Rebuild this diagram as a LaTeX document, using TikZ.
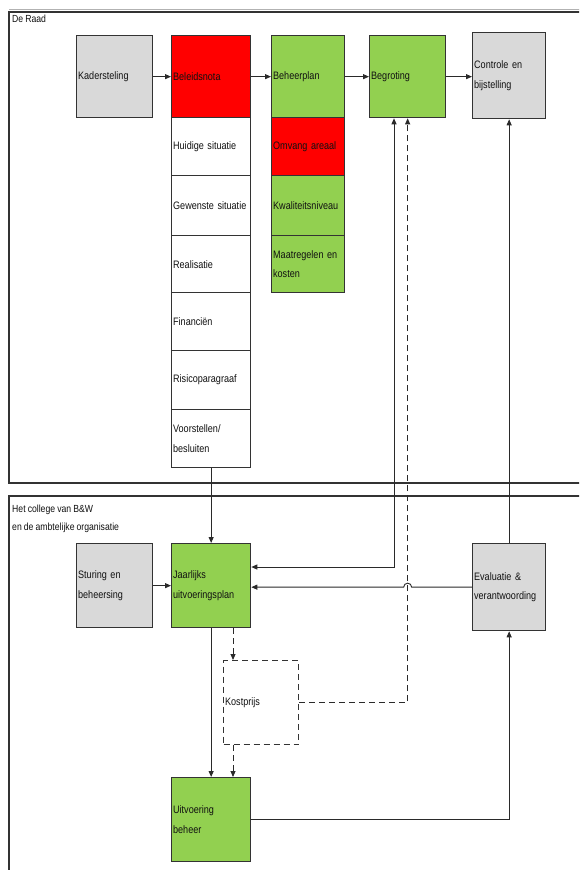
\documentclass[tikz,border=0pt]{standalone}
\usepackage{fontspec}
\setmainfont{Liberation Sans}[FakeStretch=0.84]
\usetikzlibrary{arrows.meta,calc}
\definecolor{boxgray}{HTML}{D9D9D9}
\definecolor{boxgreen}{HTML}{92D050}
\definecolor{boxred}{HTML}{FF0000}
\definecolor{edge}{HTML}{333333}
\definecolor{wire}{HTML}{2A2A2A}
\definecolor{txt}{HTML}{111111}
\newcommand{\cellfont}{\fontsize{10.8}{19.5}\selectfont\spaceskip=2.2pt plus 0.5pt\relax}
\newcommand{\lblfont}{\fontsize{10.3}{18}\selectfont\spaceskip=2.1pt plus 0.5pt\relax}
\begin{document}
\begin{tikzpicture}[x=1pt,y=-1pt,
  cell/.style={draw=edge, line width=1.3pt, anchor=north west, inner xsep=1.5pt, inner ysep=0pt,
    align=left, text=txt, font=\cellfont},
  gbox/.style={cell, fill=boxgray},
  grbox/.style={cell, fill=boxgreen},
  rbox/.style={cell, fill=boxred},
  wbox/.style={cell, fill=white},
  kbox/.style={cell, fill=white, dash pattern=on 6pt off 4pt},
  arr/.style={draw=wire, line width=0.9pt, -{Triangle[length=6pt,width=5pt]}},
  darr/.style={arr, dash pattern=on 6pt off 4pt},
  frame/.style={draw=edge, line width=1.4pt},
  lbl/.style={anchor=north west, inner sep=0pt, align=left, text=txt, font=\lblfont}]
\clip (0,0) rectangle (579,870);
\fill[white] (0,0) rectangle (579,870);
% frames
\draw[gray!60, line width=0.8pt] (600,9.5) -- (9,9.5);
\draw[frame] (600,12) -- (9,12) -- (9,483) -- (600,483);
\draw[frame] (600,496) -- (9,496) -- (9,900);
\node[lbl] (raad) at (12,15) {De Raad};
\node[lbl] (college) at (12,505) {Het college van B\&W\\en de ambtelijke organisatie};
% top row
\node[gbox, minimum width=76, minimum height=82, text width=73] (kad) at (76,35) {Kadersteling};
\node[rbox, minimum width=79, minimum height=82, text width=76] (bel) at (171,35) {Beleidsnota};
\node[wbox, minimum width=79, minimum height=58, text width=76] (hui) at (171,117) {Huidige situatie};
\node[wbox, minimum width=79, minimum height=60, text width=76] (gew) at (171,175) {Gewenste situatie};
\node[wbox, minimum width=79, minimum height=57, text width=76] (rea) at (171,235) {Realisatie};
\node[wbox, minimum width=79, minimum height=58, text width=76] (fin) at (171,292) {Financiën};
\node[wbox, minimum width=79, minimum height=59, text width=76] (ris) at (171,350) {Risicoparagraaf};
\node[wbox, minimum width=79, minimum height=58, text width=76] (voo) at (171,409) {Voorstellen/\\besluiten};
\node[grbox, minimum width=73, minimum height=82, text width=70] (beh) at (271,35) {Beheerplan};
\node[rbox, minimum width=73, minimum height=58, text width=70] (omv) at (271,117) {Omvang areaal};
\node[grbox, minimum width=73, minimum height=60, text width=70] (kwa) at (271,175) {Kwaliteitsniveau};
\node[grbox, minimum width=73, minimum height=57, text width=70] (maa) at (271,235) {Maatregelen en\\kosten};
\node[grbox, minimum width=76, minimum height=82, text width=73] (beg) at (369,35) {Begroting};
\node[gbox, minimum width=73, minimum height=86, text width=70] (con) at (472,32) {Controle en\\bijstelling};
% bottom
\node[gbox, minimum width=76, minimum height=84, text width=73] (stu) at (76,543) {Sturing en\\beheersing};
\node[grbox, minimum width=79, minimum height=84, text width=76] (jaa) at (171,543) {Jaarlijks\\uitvoeringsplan};
\node[gbox, minimum width=73, minimum height=87, text width=70] (eva) at (472,543) {Evaluatie \&\\verantwoording};
\node[kbox, minimum width=75, minimum height=84, text width=72] (kos) at (223,660) {Kostprijs};
\node[grbox, minimum width=79, minimum height=84, text width=76] (uit) at (171,777) {Uitvoering\\beheer};
% helper coordinates
\coordinate (d1) at ($(jaa.south west)+(62,0)$);
\coordinate (s1) at ($(beg.south west)+(25,0)$);
\coordinate (j1) at ($(jaa.north east)+(0,24)$);
\coordinate (jumpR) at ($(eva.west -| beg.south)+(4,0)$);
% connectors top row
\draw[arr] (kad.east) -- (bel.west);
\draw[arr] (bel.east) -- (beh.west);
\draw[arr] (beh.east) -- (beg.west);
\draw[arr] (beg.east) -- (beg.east -| con.west);
% column to yearly plan
\draw[arr] (voo.south) -- (jaa.north);
\draw[arr] (stu.east) -- (jaa.west);
% Begroting <-> Jaarlijks
\draw[draw=wire, line width=0.9pt, {Triangle[length=6pt,width=5pt]}-{Triangle[length=6pt,width=5pt]}] (s1) |- (j1);
% Evaluatie -> Jaarlijks with jump
\draw[arr] (eva.west) -- (jumpR) arc (0:-180:4) -- (eva.west -| jaa.east);
% Evaluatie -> Controle
\draw[arr] (eva.north) -- (con.south);
% Jaarlijks -> Uitvoering
\draw[arr] (jaa.south) -- (uit.north);
\draw[darr] (d1) -- (d1 |- kos.north);
\draw[darr] (d1 |- kos.south) -- (d1 |- uit.north);
% Kostprijs -> Begroting
\draw[darr] (kos.east) -| (beg.south);
% Uitvoering -> Evaluatie
\draw[arr] (uit.east) -| (eva.south);
\end{tikzpicture}
\end{document}
